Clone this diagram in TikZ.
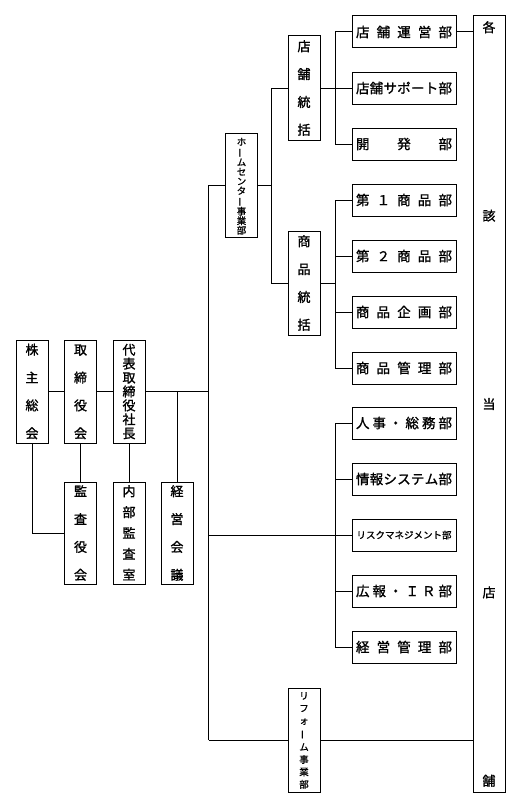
\documentclass[tikz,border=0pt]{standalone}
\usepackage{fontspec}
\usepackage{graphicx}
\setmainfont{Noto Sans CJK JP}
\font\fvert="Noto Sans CJK JP:embolden=1.3" at 13pt
\font\fdept="Noto Sans CJK JP:embolden=1.3" at 13.5pt
\font\fsmall="Noto Sans CJK JP:embolden=1.1" at 9.5pt
\newcommand\hsp[1]{\hbox to 96pt{#1}}
\newcommand\vch[1]{\hbox to 1em{\hss\vrule height 0.88em depth 0.12em width 0pt\relax#1\hss}}
\newcommand\vsp[2]{\vbox to #1{\offinterlineskip #2}}
\newcommand\vbar{\rotatebox[origin=c]{90}{ー}}
\begin{document}
\begin{tikzpicture}[x=1pt,y=-1pt,
  line width=1pt,
  vbox/.style={draw=black, line width=1pt, fill=white, inner sep=0pt, minimum width=32, minimum height=104, font=\fvert},
  dept/.style={draw=black, line width=1pt, fill=white, inner sep=0pt, minimum width=104, minimum height=32, font=\fdept},
  small/.style={font=\fsmall}]
\useasboundingbox (0,0) rectangle (525,800);
% left group
\node[vbox, minimum height=103] (kabu) at (32,391.5) {\vsp{95pt}{\vch{株}\vfill \vch{主}\vfill \vch{総}\vfill \vch{会}}};
\node[vbox, minimum height=103] (tori) at (80.5,391.5) {\vsp{95pt}{\vch{取}\vfill \vch{締}\vfill \vch{役}\vfill \vch{会}}};
\node[vbox, minimum height=103] (dai) at (129,391.5) {\vsp{95pt}{\vch{代}\vfill \vch{表}\vfill \vch{取}\vfill \vch{締}\vfill \vch{役}\vfill \vch{社}\vfill \vch{長}}};
\node[vbox, minimum height=102] (kansa) at (80.5,533) {\vsp{95pt}{\vch{監}\vfill \vch{査}\vfill \vch{役}\vfill \vch{会}}};
\node[vbox, minimum height=102] (naibu) at (129,533) {\vsp{95pt}{\vch{内}\vfill \vch{部}\vfill \vch{監}\vfill \vch{査}\vfill \vch{室}}};
\node[vbox, minimum height=102] (keiei) at (177,533) {\vsp{95pt}{\vch{経}\vfill \vch{営}\vfill \vch{会}\vfill \vch{議}}};
% divisions
\node[vbox, small] (hc) at (241.5,185) {\vsp{95pt}{\vch{ホ}\vfill \vch{\vbar}\vfill \vch{ム}\vfill \vch{セ}\vfill \vch{ン}\vfill \vch{タ}\vfill \vch{\vbar}\vfill \vch{事}\vfill \vch{業}\vfill \vch{部}}};
\node[vbox] (tenpo) at (304,88) {\vsp{95pt}{\vch{店}\vfill \vch{舗}\vfill \vch{統}\vfill \vch{括}}};
\node[vbox] (shohin) at (304,283) {\vsp{95pt}{\vch{商}\vfill \vch{品}\vfill \vch{統}\vfill \vch{括}}};
\node[vbox, small] (reform) at (304,740) {\vsp{97pt}{\vch{リ}\vfill \vch{フ}\vfill \vch{ォ}\vfill \vch{\vbar}\vfill \vch{ム}\vfill \vch{事}\vfill \vch{業}\vfill \vch{部}}};
% departments
\node[dept] (tu) at (404,32) {\hsp{店\hfill 舗\hfill 運\hfill 営\hfill 部}};
\node[dept] (ts) at (404,88) {\hsp{店\hfill 舗\hfill サ\hfill ポ\hfill ー\hfill ト\hfill 部}};
\node[dept] (kh) at (404,144) {\hsp{開\hfill 発\hfill 部}};
\node[dept] (s1) at (404,200) {\hsp{第\hfill １\hfill 商\hfill 品\hfill 部}};
\node[dept] (s2) at (404,256) {\hsp{第\hfill ２\hfill 商\hfill 品\hfill 部}};
\node[dept] (s3) at (404,312) {\hsp{商\hfill 品\hfill 企\hfill 画\hfill 部}};
\node[dept] (s4) at (404,368) {\hsp{商\hfill 品\hfill 管\hfill 理\hfill 部}};
\node[dept] (jinji) at (404,423) {\hsp{人\hfill 事\hfill ・\hfill 総\hfill 務\hfill 部}};
\node[dept] (jouhou) at (404,479) {\hsp{情\hfill 報\hfill シ\hfill ス\hfill テ\hfill ム\hfill 部}};
\node[dept, small] (risk) at (404,535) {\hbox to 95pt{リ\hfill ス\hfill ク\hfill マ\hfill ネ\hfill ジ\hfill メ\hfill ン\hfill ト\hfill 部}};
\node[dept] (kouhou) at (404,591) {\hsp{広\hfill 報\hfill ・\hfill Ｉ\hfill Ｒ\hfill 部}};
\node[dept] (keikan) at (404,647) {\hsp{経\hfill 営\hfill 管\hfill 理\hfill 部}};
% stores
\node[vbox, minimum height=776] (kaku) at (489,404) {\vsp{765pt}{\vch{各}\vfill \vch{該}\vfill \vch{当}\vfill \vch{店}\vfill \vch{舗}}};
% connectors
\coordinate (mTop) at (208.5,185);
\coordinate (mBot) at (208.5,740);
\coordinate (jDai) at (208.5,391.5);
\coordinate (jKei) at (177,391.5);
\coordinate (jRisk) at (208.5,535);
\coordinate (jHc) at (272,185);
\coordinate (jSh) at (336,283);
\draw (mTop) -- (mBot);
\draw (mTop) -- (hc.west);
\draw (kabu.east) -- (tori.west);
\draw (tori.east) -- (dai.west);
\draw (dai.east) -- (jDai);
\draw (jKei) -- (keiei.north);
\draw (tori.south) -- (kansa.north);
\draw (dai.south) -- (naibu.north);
\draw (kabu.south) |- (kansa.west);
\draw (hc.east) -- (jHc);
\draw (tenpo.west) -- ++(-16,0) |- (shohin.west);
\draw (tenpo.east) -- (ts.west);
\draw (tu.west) -- ++(-16,0) |- (kh.west);
\draw (shohin.east) -- (jSh);
\draw (s1.west) -- ++(-16,0) |- (s4.west);
\draw (s2.west) -- ++(-16,0);
\draw (s3.west) -- ++(-16,0);
\draw (jRisk) -- (risk.west);
\draw (jinji.west) -- ++(-16,0) |- (keikan.west);
\draw (jouhou.west) -- ++(-16,0);
\draw (kouhou.west) -- ++(-16,0);
\draw (mBot) -- (reform.west);
\draw (reform.east) -- (reform.east -| kaku.west);
\draw (tu.east) -- (tu.east -| kaku.west);
\end{tikzpicture}
\end{document}
